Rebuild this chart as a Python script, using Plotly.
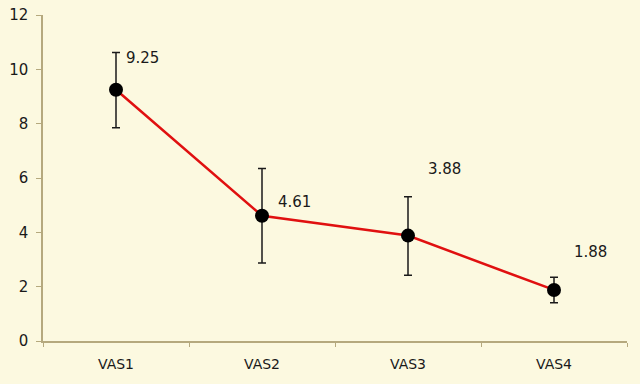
import plotly.graph_objects as go

categories = ["VAS1", "VAS2", "VAS3", "VAS4"]
means = [9.25, 4.61, 3.88, 1.88]
err_plus = [1.37, 1.74, 1.43, 0.47]
err_minus = [1.40, 1.74, 1.46, 0.47]
value_labels = ["9.25", "4.61", "3.88", "1.88"]
y_ticks = [0, 2, 4, 6, 8, 10, 12]

# label pixel offsets (style)
label_dx = [26, 32, 36, 36]
label_dy = [32, 14, 67, 38]

bg = "#FCF9E0"
axis_col = "#B5A97E"
font_fam = "DejaVu Sans, Verdana, sans-serif"
txt_col = "#1a1a1a"

fig = go.Figure()
fig.add_trace(go.Scatter(
    x=categories, y=means, mode="lines+markers",
    line=dict(color="#E01010", width=2.5),
    marker=dict(color="black", size=14),
    error_y=dict(type="data", symmetric=False, array=err_plus, arrayminus=err_minus,
                 color="#1a1a1a", thickness=1.5, width=4),
    showlegend=False,
))

for c, v, t, dx, dy in zip(categories, means, value_labels, label_dx, label_dy):
    fig.add_annotation(x=c, y=v, text=t, showarrow=False, xshift=dx, yshift=dy,
                       font=dict(family=font_fam, size=15, color=txt_col))

fig.update_layout(
    width=640, height=384,
    margin=dict(l=43, r=13, t=15, b=43),
    paper_bgcolor=bg, plot_bgcolor=bg,
    font=dict(family=font_fam, size=14, color=txt_col),
)
fig.update_xaxes(
    type="category", range=[-0.5, 3.5], showgrid=False, zeroline=False,
    showline=True, linecolor=axis_col, linewidth=1.5, automargin=False,
    ticks="outside", tickson="boundaries", ticklen=4, tickcolor=axis_col,
    ticklabelstandoff=9,
    tickfont=dict(size=14, color=txt_col),
)
fig.update_yaxes(
    range=[0, 12], tickvals=y_ticks, showgrid=False, zeroline=False,
    showline=True, linecolor=axis_col, linewidth=1.5, automargin=False,
    ticks="outside", ticklen=5, tickcolor=axis_col,
    ticklabelstandoff=5,
    tickfont=dict(size=15, color=txt_col),
)

fig.write_html(
    "out.html",
    config={"displayModeBar": False},
    post_script="document.body.style.margin='0';document.body.style.overflow='hidden';"
                "document.body.style.background='" + bg + "';",
)
